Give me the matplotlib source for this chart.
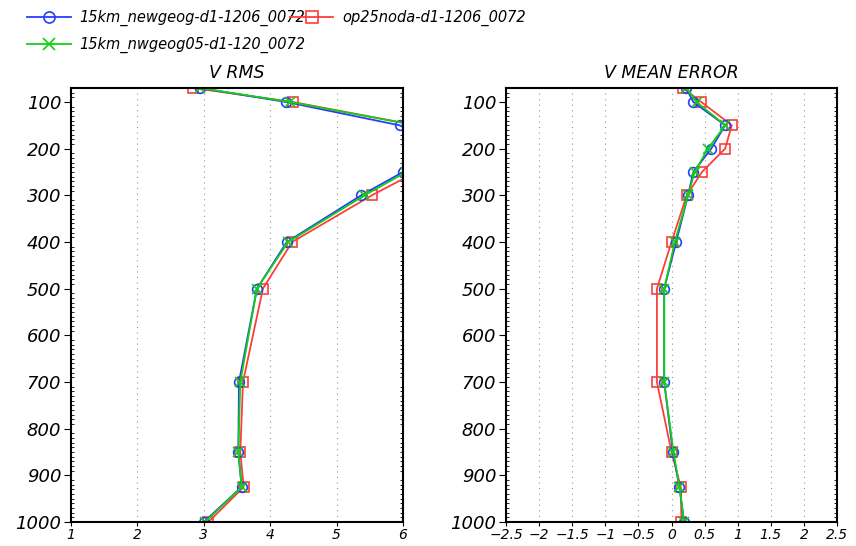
import matplotlib
matplotlib.use("Agg")
import matplotlib.pyplot as plt
import numpy as np

# pressure levels (hPa)
levels = [70, 100, 150, 200, 250, 300, 400, 500, 700, 850, 925, 1000]

# V RMS
rms_newgeog = [2.94, 4.24, 5.95, 6.6, 6.0, 5.37, 4.25, 3.80, 3.53, 3.52, 3.57, 3.0]
rms_nwgeog05 = [2.94, 4.30, 6.2, 6.7, 6.05, 5.42, 4.27, 3.80, 3.55, 3.52, 3.57, 3.02]
rms_op25noda = [2.84, 4.34, 6.2, 6.8, 6.2, 5.53, 4.33, 3.89, 3.59, 3.55, 3.60, 3.07]

# V mean error
me_newgeog = [0.22, 0.33, 0.81, 0.60, 0.33, 0.25, 0.07, -0.11, -0.11, 0.02, 0.12, 0.19]
me_nwgeog05 = [0.22, 0.38, 0.81, 0.55, 0.35, 0.25, 0.05, -0.11, -0.11, 0.03, 0.12, 0.19]
me_op25noda = [0.17, 0.45, 0.91, 0.81, 0.46, 0.23, 0.00, -0.22, -0.22, 0.00, 0.14, 0.15]

names = ["15km_newgeog-d1-1206_0072", "15km_nwgeog05-d1-120_0072", "op25noda-d1-1206_0072"]
colors = ["#2a3cff", "#10d010", "#ff3c3c"]
markers = ["o", "x", "s"]

font = {"family": "DejaVu Sans", "style": "oblique"}

fig = plt.figure(figsize=(8.56, 5.46), dpi=100)
ax1 = fig.add_axes([71 / 856, 24 / 546, 332 / 856, 434 / 546])
ax2 = fig.add_axes([506 / 856, 24 / 546, 331 / 856, 434 / 546])


def style(ax, xlim, xticks, xlabels, title):
    ax.set_xlim(*xlim)
    ax.set_ylim(1000, 70)
    ax.set_yticks(np.arange(100, 1001, 100))
    ax.set_yticklabels([str(v) for v in range(100, 1001, 100)], fontsize=13, **font)
    ax.set_xticks(xticks)
    ax.set_xticklabels(xlabels, fontsize=10, **font)
    ax.set_yticks(np.arange(70, 1001, 10), minor=True)
    ax.tick_params(axis="y", which="minor", direction="in", length=2, left=True, right=True, width=0.6)
    ax.tick_params(axis="y", which="major", direction="out", length=5, pad=2)
    ax.tick_params(axis="x", which="major", direction="out", length=3, pad=1)
    ax.xaxis.grid(True, linestyle=(0, (1, 4)), color="#999999", linewidth=0.8)
    for s in ax.spines.values():
        s.set_linewidth(1.5)
    ax.set_title(title, fontsize=12.5, pad=7, **font)


style(ax1, (1, 6), [1, 2, 3, 4, 5, 6], ["1", "2", "3", "4", "5", "6"], "V RMS")
me_ticks = np.arange(-2.5, 2.51, 0.5)
me_labels = ["\u22122.5", "\u22122", "\u22121.5", "\u22121", "\u22120.5", "0",
             "0.5", "1", "1.5", "2", "2.5"]
style(ax2, (-2.5, 2.5), me_ticks, me_labels, "V MEAN ERROR")

series_rms = [rms_newgeog, rms_nwgeog05, rms_op25noda]
series_me = [me_newgeog, me_nwgeog05, me_op25noda]
order = [2, 0, 1]
handles = {}
for i in order:
    ax1.plot(series_rms[i], levels, color=colors[i], marker=markers[i], mfc="none",
             markersize=7, linewidth=1.3, mew=1.2)
    h, = ax2.plot(series_me[i], levels, color=colors[i], marker=markers[i], mfc="none",
                  markersize=7, linewidth=1.3, mew=1.2, label=names[i])
    handles[i] = h

leg_h = [handles[0], handles[1], handles[2]]
leg = fig.legend(leg_h, [h.get_label() for h in leg_h], ncol=2, loc="upper left",
                 bbox_to_anchor=(17 / 856, 1.0), frameon=False, handlelength=3.0,
                 handletextpad=0.6, columnspacing=-1.1, labelspacing=0.7, borderaxespad=0.3,
                 prop={"family": "DejaVu Sans", "style": "oblique", "size": 10.5})
for lh in leg.get_lines():
    lh.set_markersize(8)

fig.savefig("out.png", dpi=100)
